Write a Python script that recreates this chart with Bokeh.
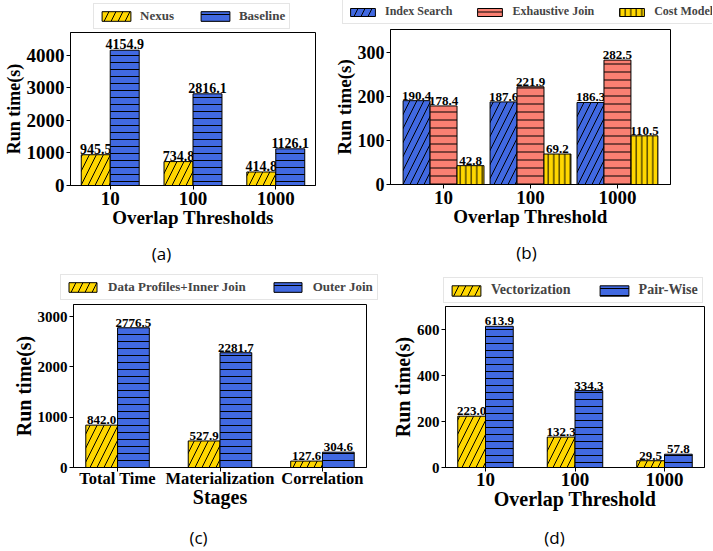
import numpy as np
from bokeh.plotting import figure
from bokeh.models import (Range1d, FixedTicker, SingleIntervalTicker, Legend,
                          LegendItem, Label, ColumnDataSource)
from bokeh.layouts import row, column
from bokeh.embed import file_html
from bokeh.resources import INLINE
from bokeh.core.properties import value

# ---------------- data ----------------
a_categories = ["10", "100", "1000"]
a_nexus = [945.5, 734.8, 414.8]
a_baseline = [4154.9, 2816.1, 1126.1]

b_categories = ["10", "100", "1000"]
b_index_search = [190.4, 187.6, 186.3]
b_exhaustive_join = [178.4, 221.9, 282.5]
b_cost_model = [42.8, 69.2, 110.5]

c_categories = ["Total Time", "Materialization", "Correlation"]
c_inner_join = [842.0, 527.9, 127.6]
c_outer_join = [2776.5, 2281.7, 304.6]

d_categories = ["10", "100", "1000"]
d_vectorization = [223.0, 132.3, 29.5]
d_pair_wise = [613.9, 334.3, 57.8]

SERIF = "Liberation Serif"
GOLD = "#FFD700"
BLUE = "#4169E1"
SALMON = "#FA8072"


def blank_fig(width, height):
    f = figure(width=width, height=height, title=None,
               x_range=Range1d(0, 1), y_range=Range1d(0, 1),
               x_axis_location=None, y_axis_location=None,
               output_backend="svg", toolbar_location=None,
               min_border_left=0, min_border_right=0,
               min_border_top=0, min_border_bottom=0)
    f.frame_align = False
    f.grid.visible = False
    f.outline_line_color = None
    f.background_fill_color = "white"
    f.border_fill_color = "white"
    return f


def bar_kwargs(s, bw):
    return dict(width=bw, fill_color=s["color"], line_color="black", line_width=1,
                hatch_pattern=s["hatch"], hatch_color="black",
                hatch_scale=s["scale"], hatch_weight=1)


def make_panel(cfg):
    W = cfg["width"]
    cats = cfg["categories"]
    n = len(cfg["series"])
    bw = cfg["bar_width"]
    base = np.arange(len(cats), dtype=float)

    # ---- main chart ----
    p = figure(width=W, height=cfg["main_h"], title=None,
               x_range=Range1d(*cfg["xlim"]), y_range=Range1d(*cfg["ylim"]),
               output_backend="svg", toolbar_location=None,
               min_border_left=cfg["borders"][0], min_border_right=cfg["borders"][1],
               min_border_top=cfg["borders"][2], min_border_bottom=cfg["borders"][3])
    p.frame_align = False
    p.grid.visible = False
    p.outline_line_color = "black"
    p.outline_line_width = 1
    p.background_fill_color = "white"
    p.border_fill_color = "white"

    # ---- legend strip ----
    lf = blank_fig(W, cfg["legend_h"])
    items = []
    for i, s in enumerate(cfg["series"]):
        xs = base + (i - (n - 1) / 2.0) * bw
        src = ColumnDataSource(dict(x=xs, top=s["values"],
                                    lab=["%.1f" % v for v in s["values"]]))
        p.vbar(x="x", top="top", source=src, **bar_kwargs(s, bw))
        p.text(x="x", y="top", text="lab", source=src,
               text_font=value(SERIF), text_font_style=value("bold"),
               text_font_size=value(cfg["val_size"]), text_align=value("center"),
               text_baseline=value("bottom"), y_offset=-1, text_color="black")
        # same series in the legend strip (hidden, only used for its swatch)
        lr = lf.vbar(x="x", top="top", source=src, visible=False, **bar_kwargs(s, bw))
        items.append(LegendItem(label=s["name"], renderers=[lr]))

    lg = cfg["legend"]
    legend = Legend(items=items, orientation="horizontal", location=lg["loc"],
                    glyph_width=lg["gw"], glyph_height=lg["gh"],
                    label_standoff=lg["standoff"], spacing=lg["spacing"],
                    padding=lg["padding"], margin=0, click_policy="none",
                    inactive_fill_alpha=0.0,
                    label_text_font=SERIF, label_text_font_style="bold",
                    label_text_font_size=lg["size"], label_height=lg["gh"],
                    border_line_color="#cccccc", border_line_width=1,
                    background_fill_color="white", background_fill_alpha=1.0)
    lf.add_layout(legend)

    # axes
    for ax in (p.xaxis[0], p.yaxis[0]):
        ax.axis_line_color = "black"
        ax.major_tick_line_color = "black"
        ax.major_tick_out = 4
        ax.major_tick_in = 0
        ax.minor_tick_line_color = None
        ax.major_label_text_font = SERIF
        ax.major_label_text_font_style = "bold"
        ax.axis_label_text_font = SERIF
        ax.axis_label_text_font_style = "bold"
        ax.major_label_standoff = 2
        ax.axis_label_standoff = 0
        ax.major_label_text_color = "black"
        ax.axis_label_text_color = "black"

    p.xaxis.ticker = FixedTicker(ticks=list(range(len(cats))))
    p.xaxis.major_label_overrides = {i: c for i, c in enumerate(cats)}
    p.xaxis.major_label_text_font_size = cfg["xtick_size"]
    p.xaxis.major_label_standoff = cfg["xtick_standoff"]
    p.xaxis.axis_label = cfg["xlabel"]
    p.xaxis.axis_label_text_font_size = cfg["xlabel_size"]
    p.xaxis.axis_label_standoff = cfg["xlabel_standoff"]

    p.yaxis.ticker = SingleIntervalTicker(interval=cfg["yinterval"])
    p.yaxis.major_label_text_font_size = cfg["ytick_size"]
    p.yaxis.axis_label = "Run time(s)"
    p.yaxis.axis_label_text_font_size = cfg["ylabel_size"]

    # ---- caption strip ----
    cf = blank_fig(W, cfg["caption_h"])
    cf.add_layout(Label(x=cfg["caption_pos"][0], y=cfg["caption_pos"][1],
                        x_units="screen", y_units="screen", text=cfg["caption"],
                        text_font="Open Sans", text_font_size="17px",
                        text_align="center", text_baseline="middle",
                        text_color="black"))
    return column(lf, p, cf)


pa = make_panel(dict(
    width=330, legend_h=30, main_h=210, caption_h=30, borders=(69, 15, 2, 55),
    xlim=(-0.48, 2.48), ylim=(0, 4700), yinterval=1000,
    categories=a_categories, bar_width=0.35,
    series=[dict(name="Nexus", values=a_nexus, color=GOLD, hatch="/", scale=14),
            dict(name="Baseline", values=a_baseline, color=BLUE, hatch="-", scale=7)],
    val_size="14px", xtick_size="19px", ytick_size="19px",
    xtick_standoff=2, xlabel_standoff=-1,
    xlabel="Overlap Thresholds", xlabel_size="19px", ylabel_size="18px",
    legend=dict(loc=(93, 1), gw=36, gh=12, standoff=6, spacing=23, padding=4, size="13px"),
    caption="(a)", caption_pos=(161, 17)))

pb = make_panel(dict(
    width=382, legend_h=27, main_h=213, caption_h=30, borders=(59, 42, 2, 56),
    xlim=(-0.61, 2.61), ylim=(0, 352), yinterval=100,
    categories=b_categories, bar_width=0.31,
    series=[dict(name="Index Search", values=b_index_search, color=BLUE, hatch="/", scale=14),
            dict(name="Exhaustive Join", values=b_exhaustive_join, color=SALMON, hatch="-", scale=8),
            dict(name="Cost Model", values=b_cost_model, color=GOLD, hatch="|", scale=5.5)],
    val_size="13px", xtick_size="19px", ytick_size="18px",
    xtick_standoff=2, xlabel_standoff=-1,
    xlabel="Overlap Threshold", xlabel_size="19px", ylabel_size="19px",
    legend=dict(loc=(12, 3), gw=31, gh=10, standoff=7, spacing=22, padding=4, size="12px"),
    caption="(b)", caption_pos=(196, 18)))

pc = make_panel(dict(
    width=385, legend_h=32, main_h=218, caption_h=30, borders=(73, 19, 2, 53),
    xlim=(-0.43, 2.43), ylim=(0, 3240), yinterval=1000,
    categories=c_categories, bar_width=0.31,
    series=[dict(name="Data Profiles+Inner Join", values=c_inner_join, color=GOLD, hatch="/", scale=14),
            dict(name="Outer Join", values=c_outer_join, color=BLUE, hatch="-", scale=7)],
    val_size="13px", xtick_size="16.5px", ytick_size="15px",
    xtick_standoff=-3, xlabel_standoff=-5,
    xlabel="Stages", xlabel_size="20px", ylabel_size="20px",
    legend=dict(loc=(60, 2), gw=35, gh=12, standoff=8, spacing=24, padding=4, size="13px"),
    caption="(c)", caption_pos=(198, 13)))

pd_ = make_panel(dict(
    width=327, legend_h=34, main_h=216, caption_h=30, borders=(60, 8, 2, 53),
    xlim=(-0.447, 2.447), ylim=(0, 700), yinterval=200,
    categories=d_categories, bar_width=0.31,
    series=[dict(name="Vectorization", values=d_vectorization, color=GOLD, hatch="/", scale=14),
            dict(name="Pair-Wise", values=d_pair_wise, color=BLUE, hatch="-", scale=7)],
    val_size="13px", xtick_size="19px", ytick_size="15px",
    xtick_standoff=1, xlabel_standoff=-1,
    xlabel="Overlap Threshold", xlabel_size="20px", ylabel_size="20px",
    legend=dict(loc=(58, 1), gw=36, gh=13, standoff=7, spacing=25, padding=4, size="14px"),
    caption="(d)", caption_pos=(169, 13)))

layout = column(row(pa, pb), row(pc, pd_))
open("out.html", "w").write(file_html(layout, INLINE))
